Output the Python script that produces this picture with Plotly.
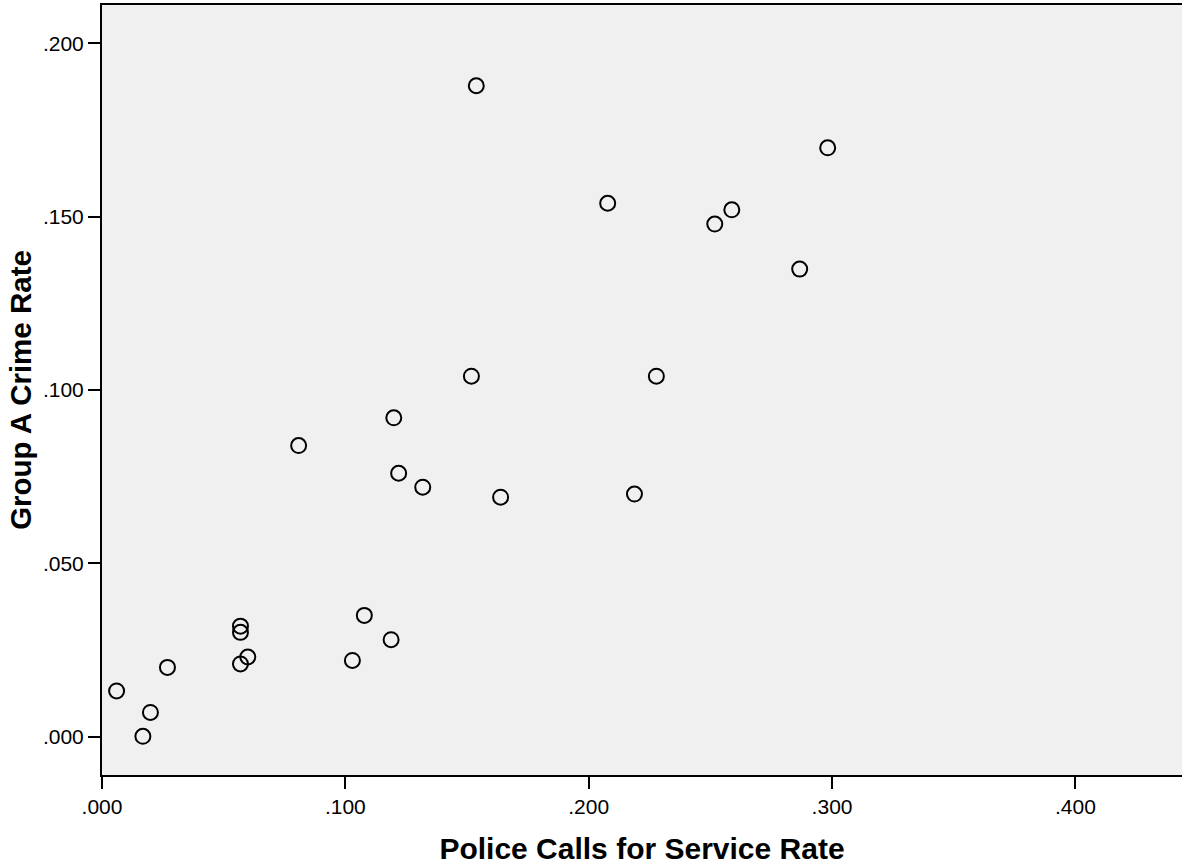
import plotly.graph_objects as go

calls_rate = [0.0060, 0.0199, 0.0168, 0.0269, 0.0569, 0.0569, 0.0569, 0.0599,
              0.1029, 0.1078, 0.1188, 0.0808, 0.1199, 0.1219, 0.1318, 0.1518,
              0.1638, 0.1538, 0.2078, 0.2518, 0.2588, 0.2867, 0.2278, 0.2188, 0.2982]
crime_rate = [0.0132, 0.0070, 0.0001, 0.0200, 0.0319, 0.0301, 0.0210, 0.0230,
              0.0220, 0.0350, 0.0280, 0.0840, 0.0920, 0.0760, 0.0720, 0.1040,
              0.0691, 0.1878, 0.1539, 0.1479, 0.1520, 0.1349, 0.1040, 0.0700, 0.1699]

x_tickvals = [0.0, 0.1, 0.2, 0.3, 0.4]
x_ticktext = [".000", ".100", ".200", ".300", ".400"]
y_tickvals = [0.0, 0.05, 0.10, 0.15, 0.20]
y_ticktext = [".000", ".050", ".100", ".150", ".200"]

x_title = "Police Calls for Service Rate"
y_title = "Group A Crime Rate"

FONT = "Liberation Sans, Arial, sans-serif"

fig = go.Figure(go.Scatter(
    x=calls_rate, y=crime_rate, mode="markers",
    marker=dict(symbol="circle-open", size=15, color="black", line=dict(width=2, color="black")),
    hoverinfo="x+y",
))

fig.update_layout(
    width=1182, height=865,
    margin=dict(l=102, r=0, t=5, b=90),
    paper_bgcolor="white", plot_bgcolor="#f0f0f0",
    showlegend=False,
    font=dict(family=FONT, color="black"),
)
fig.update_xaxes(
    range=[0, 0.4438], tickvals=x_tickvals, ticktext=x_ticktext,
    showgrid=False, zeroline=False,
    showline=True, linecolor="black", linewidth=2, mirror=True,
    ticks="outside", ticklen=12, tickwidth=2, tickcolor="black",
    tickfont=dict(size=21, family=FONT),
    title=dict(text=x_title, font=dict(size=30, family=FONT, weight="bold"), standoff=21),
    automargin=False,
)
fig.update_yaxes(
    range=[-0.01105, 0.2111], tickvals=y_tickvals, ticktext=y_ticktext,
    showgrid=False, zeroline=False,
    showline=True, linecolor="black", linewidth=2,
    ticks="outside", ticklen=12, tickwidth=2, tickcolor="black",
    tickfont=dict(size=21, family=FONT),
    title=dict(text=y_title, font=dict(size=29.5, family=FONT, weight="bold"), standoff=3),
    automargin=False,
)

fig.write_html("out.html", config={"displayModeBar": False},
               post_script="document.body.style.margin='0';document.body.style.overflow='hidden';")
